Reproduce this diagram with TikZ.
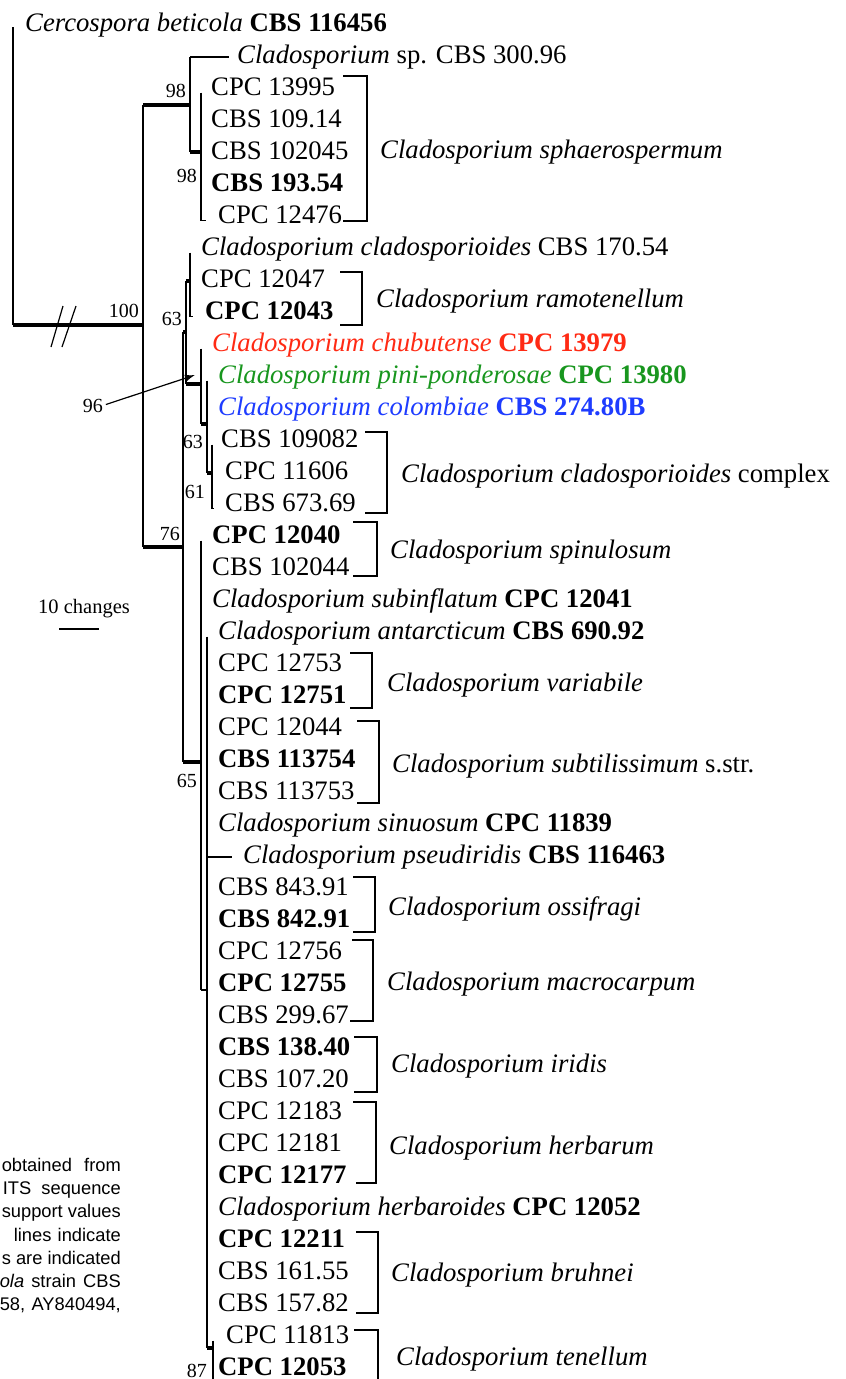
\documentclass[tikz,border=0pt]{standalone}
\usepackage{fontspec}
\setmainfont{Liberation Serif}
\newfontfamily\notefont{Liberation Sans}
\usetikzlibrary{arrows.meta}
\definecolor{CladRed}{HTML}{FF2A14}
\definecolor{CladGreen}{HTML}{18961E}
\definecolor{CladBlue}{HTML}{1E3CFF}
\tikzset{
  taxon/.style={anchor=base west,inner sep=0pt,font=\fontsize{26.7}{32}\selectfont},
  boot/.style={anchor=base east,inner sep=0pt,font=\fontsize{20}{24}\selectfont},
  note/.style={anchor=base east,inner sep=0pt,font=\notefont\fontsize{18.3}{23}\selectfont},
  branch/.style={line width=1.2pt},
  support/.style={line width=3.2pt},
  bracket/.style={line width=2.3pt},
}
\begin{document}
\begin{tikzpicture}[x=1pt,y=-1pt]
\path[use as bounding box] (0,0) rectangle (846,1379);
% taxa
\node[taxon] (t1) at (25,31) {\textit{Cercospora beticola} \textbf{CBS 116456}};
\node[taxon] (t2) at (237,63) {\textit{Cladosporium} sp. CBS 300.96};
\node[taxon] (t3) at (211,95) {CPC 13995};
\node[taxon] (t4) at (211,127) {CBS 109.14};
\node[taxon] (t5) at (211,159) {CBS 102045};
\node[taxon] (t6) at (211,191) {\textbf{CBS 193.54}};
\node[taxon] (t7) at (218,223) {CPC 12476};
\node[taxon] (t8) at (201,255) {\textit{Cladosporium cladosporioides} CBS 170.54};
\node[taxon] (t9) at (201,287) {CPC 12047};
\node[taxon] (t10) at (205,319) {\textbf{CPC 12043}};
\node[taxon,text=CladRed] (t11) at (212,351) {\textit{Cladosporium chubutense} \textbf{CPC 13979}};
\node[taxon,text=CladGreen] (t12) at (218,383) {\textit{Cladosporium pini-ponderosae} \textbf{CPC 13980}};
\node[taxon,text=CladBlue] (t13) at (218,415) {\textit{Cladosporium colombiae} \textbf{CBS 274.80B}};
\node[taxon] (t14) at (221,447) {CBS 109082};
\node[taxon] (t15) at (225,479) {CPC 11606};
\node[taxon] (t16) at (225,511) {CBS 673.69};
\node[taxon] (t17) at (212,543) {\textbf{CPC 12040}};
\node[taxon] (t18) at (212,575) {CBS 102044};
\node[taxon] (t19) at (212,607) {\textit{Cladosporium subinflatum} \textbf{CPC 12041}};
\node[taxon] (t20) at (218,639) {\textit{Cladosporium antarcticum} \textbf{CBS 690.92}};
\node[taxon] (t21) at (218,671) {CPC 12753};
\node[taxon] (t22) at (218,703) {\textbf{CPC 12751}};
\node[taxon] (t23) at (218,735) {CPC 12044};
\node[taxon] (t24) at (218,767) {\textbf{CBS 113754}};
\node[taxon] (t25) at (218,799) {CBS 113753};
\node[taxon] (t26) at (218,831) {\textit{Cladosporium sinuosum} \textbf{CPC 11839}};
\node[taxon] (t27) at (243,863) {\textit{Cladosporium pseudiridis} \textbf{CBS 116463}};
\node[taxon] (t28) at (218,895) {CBS 843.91};
\node[taxon] (t29) at (218,927) {\textbf{CBS 842.91}};
\node[taxon] (t30) at (218,959) {CPC 12756};
\node[taxon] (t31) at (218,991) {\textbf{CPC 12755}};
\node[taxon] (t32) at (218,1023) {CBS 299.67};
\node[taxon] (t33) at (218,1055) {\textbf{CBS 138.40}};
\node[taxon] (t34) at (218,1087) {CBS 107.20};
\node[taxon] (t35) at (218,1119) {CPC 12183};
\node[taxon] (t36) at (218,1151) {CPC 12181};
\node[taxon] (t37) at (218,1183) {\textbf{CPC 12177}};
\node[taxon] (t38) at (218,1215) {\textit{Cladosporium herbaroides} \textbf{CPC 12052}};
\node[taxon] (t39) at (218,1247) {\textbf{CPC 12211}};
\node[taxon] (t40) at (218,1279) {CBS 161.55};
\node[taxon] (t41) at (218,1311) {CBS 157.82};
\node[taxon] (t42) at (226,1343) {CPC 11813};
\node[taxon] (t43) at (218,1375) {\textbf{CPC 12053}};
% internal nodes
\coordinate (eCer) at (13,27);
\coordinate (nIn) at (143,325);
\coordinate (nSph) at (190,105);
\coordinate (eSp) at (229,57);
\coordinate (nSph2) at (201,152);
\coordinate (nK) at (183,547);
\coordinate (nA) at (186,332);
\coordinate (nC) at (190,281);
\coordinate (nD) at (201,384);
\coordinate (nE) at (207,424);
\coordinate (nF) at (212,473);
\coordinate (nB) at (201,762);
\coordinate (nG) at (207,990);
\coordinate (nH) at (213,1348);
\coordinate (ePse) at (232,857);
\coordinate (eH) at (213,1390);
% root and outgroup
\draw[branch] (eCer) -- (eCer |- nIn);
\draw[support] (eCer |- nIn) -- (nIn);
\draw[branch] (51,347) -- (63,306);
\draw[branch] (62,347) -- (76,306);
% ingroup
\draw[branch] (nIn |- nSph) -- (nIn |- nK);
\draw[support] (nIn |- nSph) -- (nSph);
\draw[support] (nIn |- nK) -- (nK);
\draw[branch] (nSph |- eSp) -- (nSph |- nSph2);
\draw[branch] (nSph |- eSp) -- (eSp);
\draw[support] (nSph |- nSph2) -- (nSph2);
\draw[branch] (nSph2 |- t3.mid) -- (nSph2 |- t7.mid) -- ++(5,0);
% cladosporioides group
\draw[branch] (nK |- nA) -- (nK |- nB);
\draw[support] (nK |- nA) -- (nA);
\draw[support] (nK |- nB) -- (nB);
\draw[branch] (nA |- nC) -- (nA |- nD);
\draw[support] (nA |- nC) -- (nC);
\draw[support] (nA |- nD) -- (nD);
\draw[branch] (nC |- t8.mid) -- (nC |- t10.mid) -- ++(3,0);
\draw[branch] (nD |- t11.mid) -- (nD |- nE);
\draw[support] (nD |- nE) -- (nE);
\draw[branch] (nE |- t12.mid) -- (nE |- nF);
\draw[support] (nE |- nF) -- (nF);
\draw[branch] (nF |- t14.mid) -- (nF |- t16.mid) -- ++(2,0);
% herbarum group
\draw[branch] (nB |- t17.mid) -- (nB |- nG);
\draw[branch] (nB |- nG) -- (nG);
\draw[branch] (nG |- t20.mid) -- (nG |- nH);
\draw[branch] (nG |- ePse) -- (ePse);
\draw[support] (nG |- nH) -- (nH);
\draw[branch] (nH |- t42.mid) -- (eH);
% support values
\node[boot] (b100) at (139,317) {100};
\node[boot] (b98a) at (186,97) {98};
\node[boot] (b98b) at (197,182) {98};
\node[boot] (b63a) at (182,325) {63};
\node[boot] (b96) at (103,412) {96};
\node[boot] (b63b) at (203,448) {63};
\node[boot] (b61) at (205,498) {61};
\node[boot] (b76) at (180,540) {76};
\node[boot] (b65) at (197,787) {65};
\node[boot] (b87) at (207,1377) {87};
\coordinate (a96) at (195,375);
\draw[branch,-{Latex[length=10pt,width=7pt]},shorten <=3pt] (b96.east) -- (a96);
% species brackets
\draw[bracket] (343,76) -- (367,76) -- (367,221) -- (343,221);
\node[taxon] (s1) at (380,158) {\textit{Cladosporium sphaerospermum}};
\draw[bracket] (340,272) -- (362,272) -- (362,325) -- (340,325);
\node[taxon] (s2) at (376,307) {\textit{Cladosporium ramotenellum}};
\draw[bracket] (365,432) -- (387,432) -- (387,513) -- (365,513);
\node[taxon] (s3) at (401,482) {\textit{Cladosporium cladosporioides} complex};
\draw[bracket] (353,522) -- (377,522) -- (377,576) -- (353,576);
\node[taxon] (s4) at (390,558) {\textit{Cladosporium spinulosum}};
\draw[bracket] (350,653) -- (372,653) -- (372,708) -- (350,708);
\node[taxon] (s5) at (387,691) {\textit{Cladosporium variabile}};
\draw[bracket] (357,721) -- (379,721) -- (379,803) -- (357,803);
\node[taxon] (s6) at (392,772) {\textit{Cladosporium subtilissimum} s.str.};
\draw[bracket] (353,877) -- (375,877) -- (375,932) -- (353,932);
\node[taxon] (s7) at (388,915) {\textit{Cladosporium ossifragi}};
\draw[bracket] (352,940) -- (373,940) -- (373,1021) -- (350,1021);
\node[taxon] (s8) at (387,990) {\textit{Cladosporium macrocarpum}};
\draw[bracket] (354,1037) -- (377,1037) -- (377,1092) -- (354,1092);
\node[taxon] (s9) at (391,1072) {\textit{Cladosporium iridis}};
\draw[bracket] (353,1102) -- (376,1102) -- (376,1183) -- (356,1183);
\node[taxon] (s10) at (389,1154) {\textit{Cladosporium herbarum}};
\draw[bracket] (356,1232) -- (378,1232) -- (378,1313) -- (356,1313);
\node[taxon] (s11) at (391,1281) {\textit{Cladosporium bruhnei}};
\draw[bracket] (354,1330) -- (378,1330) -- (378,1390);
\node[taxon] (s12) at (396,1365) {\textit{Cladosporium tenellum}};
% scale bar
\node[anchor=base,inner sep=0pt,font=\fontsize{20.5}{24}\selectfont] (scale) at (84,613) {10 changes};
\coordinate (barL) at (59,629);
\coordinate (barR) at (99,629);
\draw[line width=1.5pt] (barL) -- (barR);
% legend text cut at the left edge
\node[note] (c1) at (121,1171) {\makebox[119pt][s]{obtained from}};
\node[note] (c2) at (121,1194) {\makebox[118pt][s]{ITS sequence}};
\node[note] (c3) at (121,1217) {\makebox[119pt][s]{support values}};
\node[note] (c4) at (121,1241) {\makebox[107pt][s]{lines indicate}};
\node[note] (c5) at (121,1264) {\makebox[119pt][s]{s are indicated}};
\node[note] (c6) at (121,1287) {\makebox[121pt][s]{\textit{ola} strain CBS}};
\node[note] (c7) at (121,1310) {\makebox[121pt][s]{58, AY840494,}};
\end{tikzpicture}
\end{document}
